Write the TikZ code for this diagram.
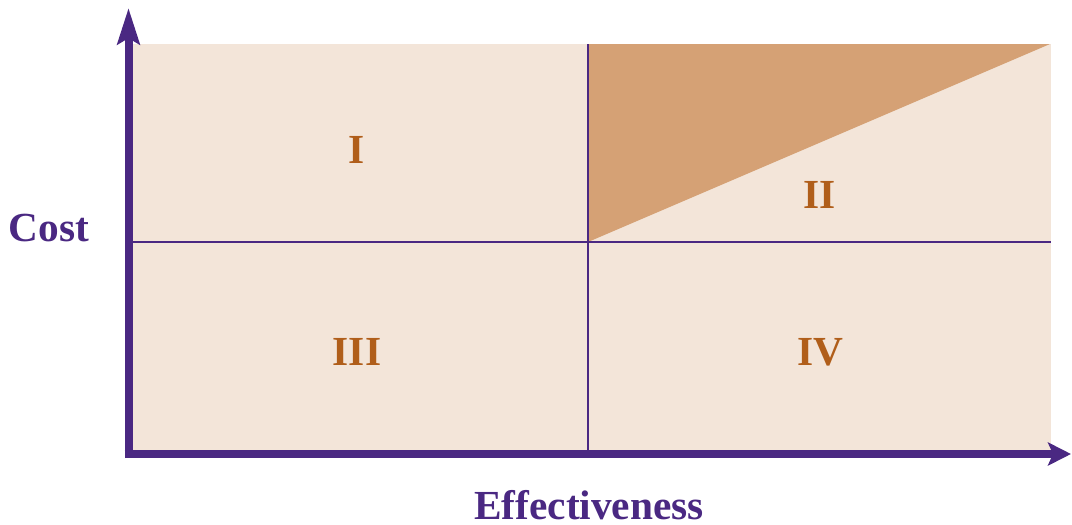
\documentclass[tikz,border=0pt]{standalone}
\usepackage{fontspec}
\setmainfont{Liberation Serif}
\usetikzlibrary{arrows.meta}
\definecolor{bgc}{HTML}{F3E5D9}
\definecolor{tri}{HTML}{D5A175}
\definecolor{axc}{HTML}{4A2882}
\definecolor{lab}{HTML}{B05E1A}
\tikzset{
  quad/.style={font=\bfseries\fontsize{31}{31}\selectfont, text=lab},
  axlab/.style={font=\bfseries\fontsize{31}{31}\selectfont, text=axc, inner sep=0pt},
  divider/.style={draw=axc, line width=1.9pt},
  axis/.style={draw=axc, line width=6pt}
}
\begin{document}
\begin{tikzpicture}[x=0.75pt,y=-0.75pt]
\useasboundingbox (0,0) rectangle (1072,525);
\fill[bgc] (131,44) rectangle (1051,455);
\fill[tri] (588,242) -- (588,44) -- (1050,44) -- cycle;
\coordinate (vt) at (588,44);
\coordinate (vb) at (588,455);
\coordinate (hl) at (131,242);
\coordinate (hr) at (1051,242);
\draw[divider] (vt) -- (vb);
\draw[divider] (hl) -- (hr);
\coordinate (ytip) at (128.5,8);
\coordinate (xtip) at (1071,454);
\coordinate (xs) at (124.5,454);
\coordinate (ys) at (128.5,458);
\draw[axis, -{Stealth[length=36*0.75pt, width=22*0.75pt, inset=6*0.75pt]}] (ys) -- (ytip);
\draw[axis, -{Stealth[length=23*0.75pt, width=23*0.75pt, inset=5*0.75pt]}] (xs) -- (xtip);
\node[quad] (q1) at (357,150) {I};
\node[quad] (q2) at (820,195) {II};
\node[quad] (q3) at (357,352) {III};
\node[quad] (q4) at (820,352) {IV};
\node[axlab] (cost) at (49,228) {Cost};
\node[axlab, anchor=base] (eff) at (589,519) {Effectiveness};
\end{tikzpicture}
\end{document}
